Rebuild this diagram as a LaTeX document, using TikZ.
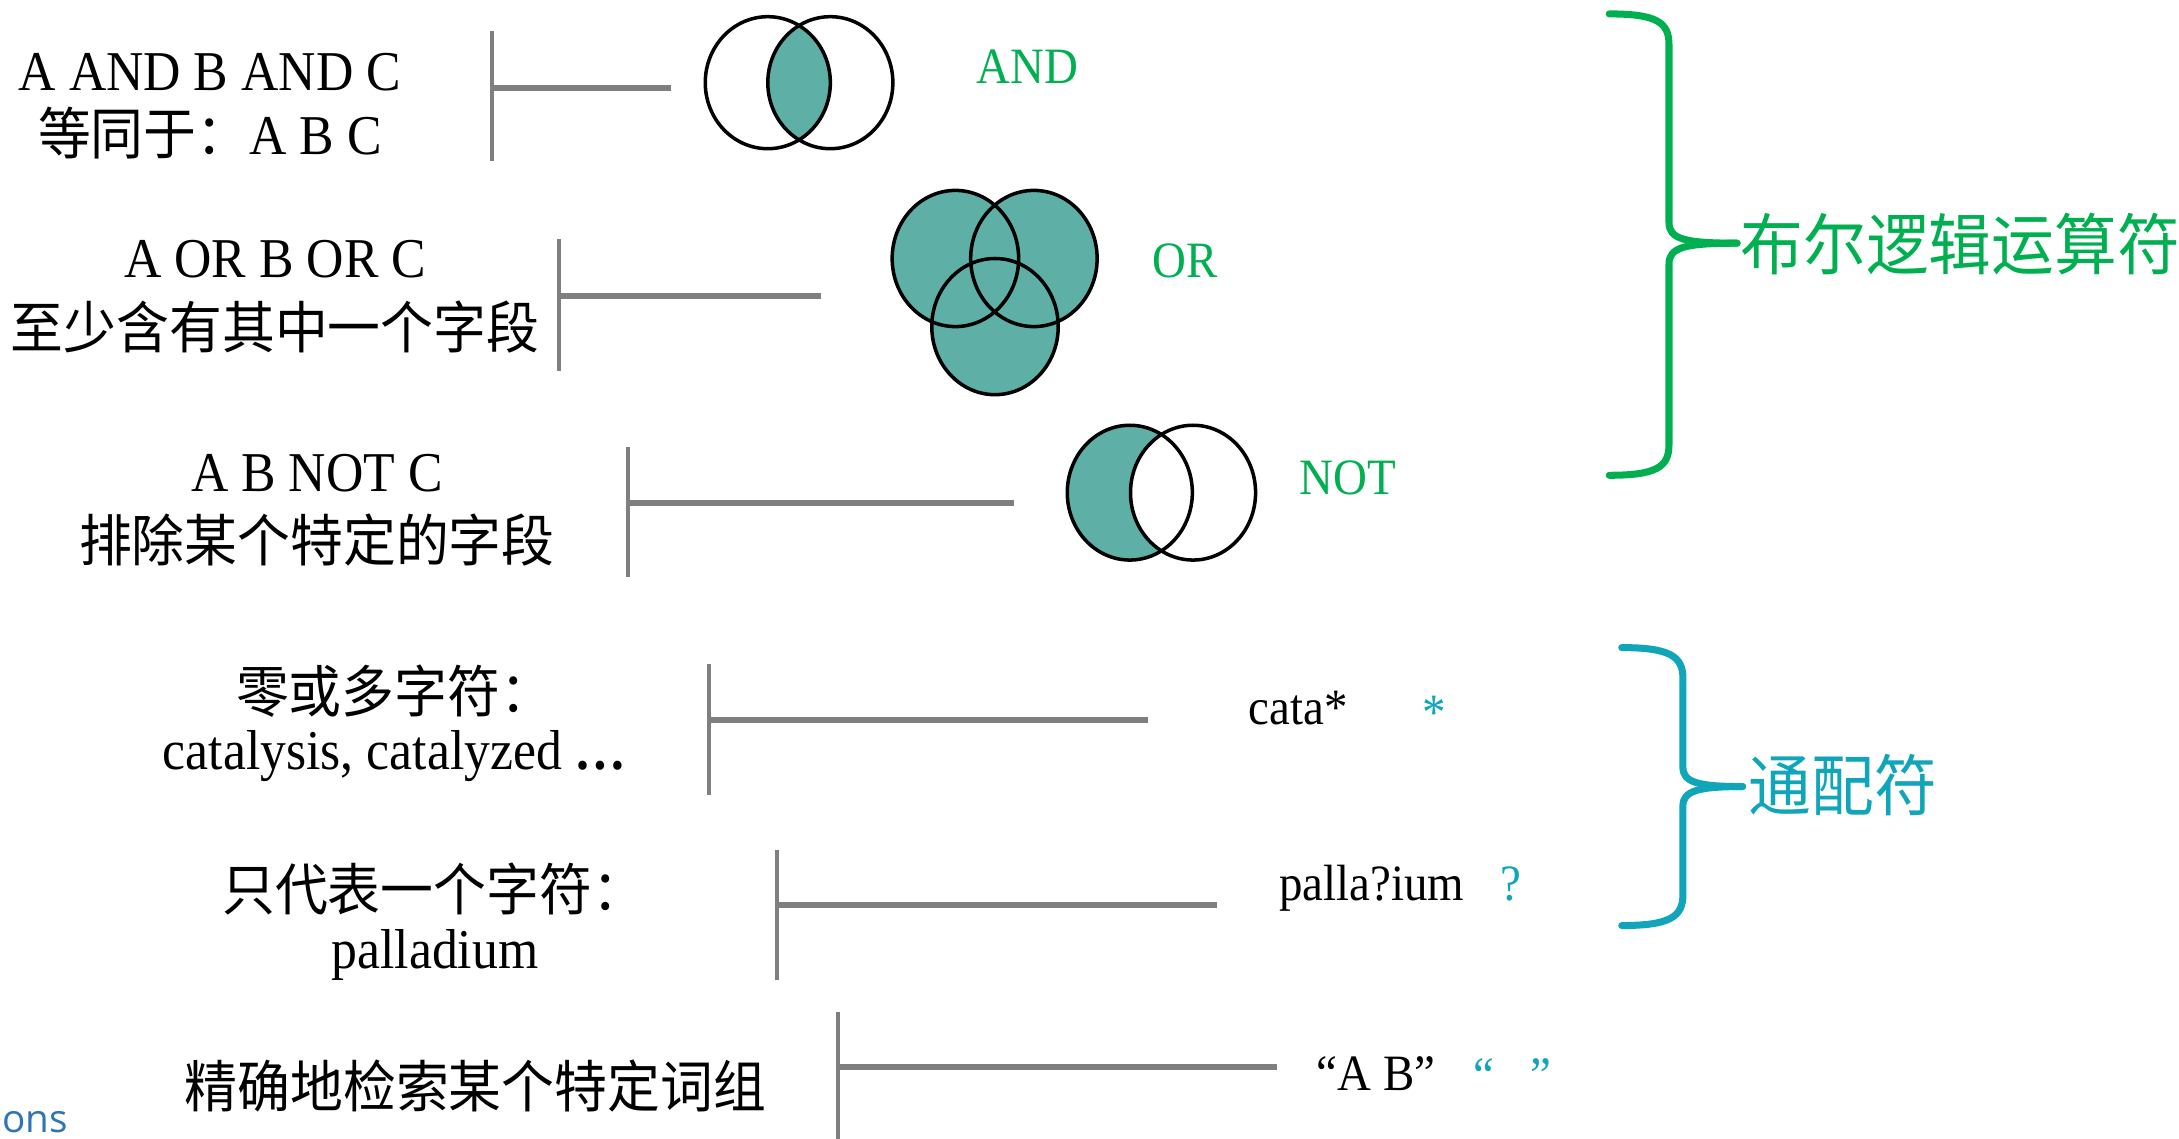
\documentclass[tikz,border=0pt]{standalone}
\usepackage{fontspec}
\setmainfont{Liberation Serif}[FakeStretch=0.92]
\newfontfamily\cjk{Noto Sans CJK SC}[FakeStretch=0.94]
\newfontfamily\uisans{Open Sans}
\usetikzlibrary{positioning}

\definecolor{vennfill}{HTML}{5EB0A6}
\definecolor{boolgreen}{HTML}{00B050}
\definecolor{wildteal}{HTML}{10A5B8}
\definecolor{barcol}{HTML}{7F7F7F}
\definecolor{uiblue}{HTML}{2E75B6}

\tikzset{
  txt/.style={anchor=base, inner sep=0pt, font=\fontsize{16}{19}\selectfont},
  zh/.style={txt, font=\fontsize{16}{19}\selectfont\cjk},
  small/.style={anchor=base, inner sep=0pt, font=\fontsize{14.5}{17}\selectfont},
  bar/.style={draw=barcol, line width=1.2pt},
  stem/.style={draw=barcol, line width=1.7pt},
  venn/.style={draw=black, line width=1pt},
  brace/.style={line width=2pt, line cap=round},
  group/.style={anchor=base west, inner sep=0pt, font=\fontsize{19}{22}\selectfont\cjk}
}

\begin{document}
\begin{tikzpicture}[x=0.013897cm, y=-0.013897cm]
    \useasboundingbox (0,0) rectangle (1568,819.6);

    % left column: queries
    \node[txt] (q1a) at (151,65) {A AND B AND C};
    \node[txt] (q1b) at (151,111) {{\cjk 等同于：}A B C};
    \node[txt] (q2a) at (198,200) {A OR B OR C};
    \node[zh] (q2b) at (198,251) {至少含有其中一个字段};
    \node[txt] (q3a) at (228,354) {A B NOT C};
    \node[zh] (q3b) at (228,404) {排除某个特定的字段};
    \node[zh] (q4a) at (284,513) {零或多字符：};
    \node[txt] (q4b) at (284,554) {catalysis, catalyzed \textbf{…}};
    \node[zh] (q5a) at (312,655) {只代表一个字符：};
    \node[txt] (q5b) at (313,697) {palladium};
    \node[zh] (q6a) at (342,797) {精确地检索某个特定词组};

    % bars and stems
    \coordinate (b1t) at (354,22);  \coordinate (b1b) at (354,116);
    \coordinate (b1m) at (354,63);  \coordinate (e1) at (483,63);
    \coordinate (b2t) at (402,172); \coordinate (b2b) at (402,267);
    \coordinate (b2m) at (402,213); \coordinate (e2) at (591,213);
    \coordinate (b3t) at (452,322); \coordinate (b3b) at (452,415);
    \coordinate (b3m) at (452,362); \coordinate (e3) at (730,362);
    \coordinate (b4t) at (510,478); \coordinate (b4b) at (510,572);
    \coordinate (b4m) at (510,518); \coordinate (e4) at (826,518);
    \coordinate (b5t) at (559,612); \coordinate (b5b) at (559,705);
    \coordinate (b5m) at (559,651); \coordinate (e5) at (876,651);
    \coordinate (b6t) at (603,728); \coordinate (b6b) at (603,822);
    \coordinate (b6m) at (603,768); \coordinate (e6) at (919,768);
    \foreach \i in {1,...,6} {
        \draw[bar] (b\i t) -- (b\i b);
        \draw[stem] (b\i m) -- (e\i);
    }

    % AND
    \coordinate (andl) at (552.5,59.5);
    \coordinate (andr) at (597.5,59.5);
    \begin{scope}
        \clip (andl) ellipse [x radius=45, y radius=47.5];
        \fill[vennfill] (andr) ellipse [x radius=45, y radius=47.5];
    \end{scope}
    \draw[venn] (andl) ellipse [x radius=45, y radius=47.5];
    \draw[venn] (andr) ellipse [x radius=45, y radius=47.5];

    % OR
    \coordinate (orl) at (687.5,186);
    \coordinate (orr) at (744,186);
    \coordinate (orb) at (716,235);
    \fill[vennfill] (orl) ellipse [x radius=45.5, y radius=49];
    \fill[vennfill] (orr) ellipse [x radius=45.5, y radius=49];
    \fill[vennfill] (orb) ellipse [x radius=45.5, y radius=49];
    \draw[venn] (orl) ellipse [x radius=45.5, y radius=49];
    \draw[venn] (orr) ellipse [x radius=45.5, y radius=49];
    \draw[venn] (orb) ellipse [x radius=45.5, y radius=49];

    % NOT
    \coordinate (notl) at (813,354.5);
    \coordinate (notr) at (858.5,354.5);
    \fill[vennfill] (notl) ellipse [x radius=45, y radius=48.5];
    \fill[white] (notr) ellipse [x radius=45, y radius=48.5];
    \draw[venn] (notl) ellipse [x radius=45, y radius=48.5];
    \draw[venn] (notr) ellipse [x radius=45, y radius=48.5];

    % operator names
    \node[small, text=boolgreen] (opand) at (739.5,60) {AND};
    \node[small, text=boolgreen] (opor) at (853,200) {OR};
    \node[small, text=boolgreen] (opnot) at (970,356) {NOT};

    % examples
    \node[small, anchor=base west] (ex4) at (898,521) {cata*};
    \node[small, text=wildteal] (w4) at (1032,525) {*};
    \node[small, anchor=base west] (ex5) at (920,648) {palla?ium};
    \node[small, text=wildteal] (w5) at (1087,648) {?};
    \node[small, anchor=base west] (ex6) at (947,785) {“A B”};
    \node[small, anchor=base west, text=wildteal] (w6) at (1060,786) {“\hspace{3.6mm}”};

    % braces
    \coordinate (g1) at (1158,10);
    \coordinate (g2) at (1158,342);
    \coordinate (gtip) at (1250,175);
    \draw[brace, boolgreen] (g1) .. controls (1192,10) and (1201,16) .. (1201,32)
        -- (1201,160) .. controls (1201,172) and (1212,175) .. (gtip);
    \draw[brace, boolgreen] (gtip) .. controls (1212,175) and (1201,178) .. (1201,190)
        -- (1201,320) .. controls (1201,336) and (1192,342) .. (g2);
    \node[group, text=boolgreen] (boolop) at (1252,194) {布尔逻辑运算符};

    \coordinate (t1) at (1167,466);
    \coordinate (t2) at (1167,666);
    \coordinate (ttip) at (1254,566);
    \draw[brace, wildteal] (t1) .. controls (1201,466) and (1211,472) .. (1211,488)
        -- (1211,552) .. controls (1211,563) and (1222,566) .. (ttip);
    \draw[brace, wildteal] (ttip) .. controls (1222,566) and (1211,569) .. (1211,580)
        -- (1211,644) .. controls (1211,660) and (1201,666) .. (t2);
    \node[group, text=wildteal] (wildcard) at (1258,583) {通配符};

    % leftover text at the corner
    \node[anchor=base west, inner sep=0pt, text=uiblue, font=\fontsize{11}{13}\selectfont\uisans] (cut) at (1,815) {ons};
\end{tikzpicture}
\end{document}
